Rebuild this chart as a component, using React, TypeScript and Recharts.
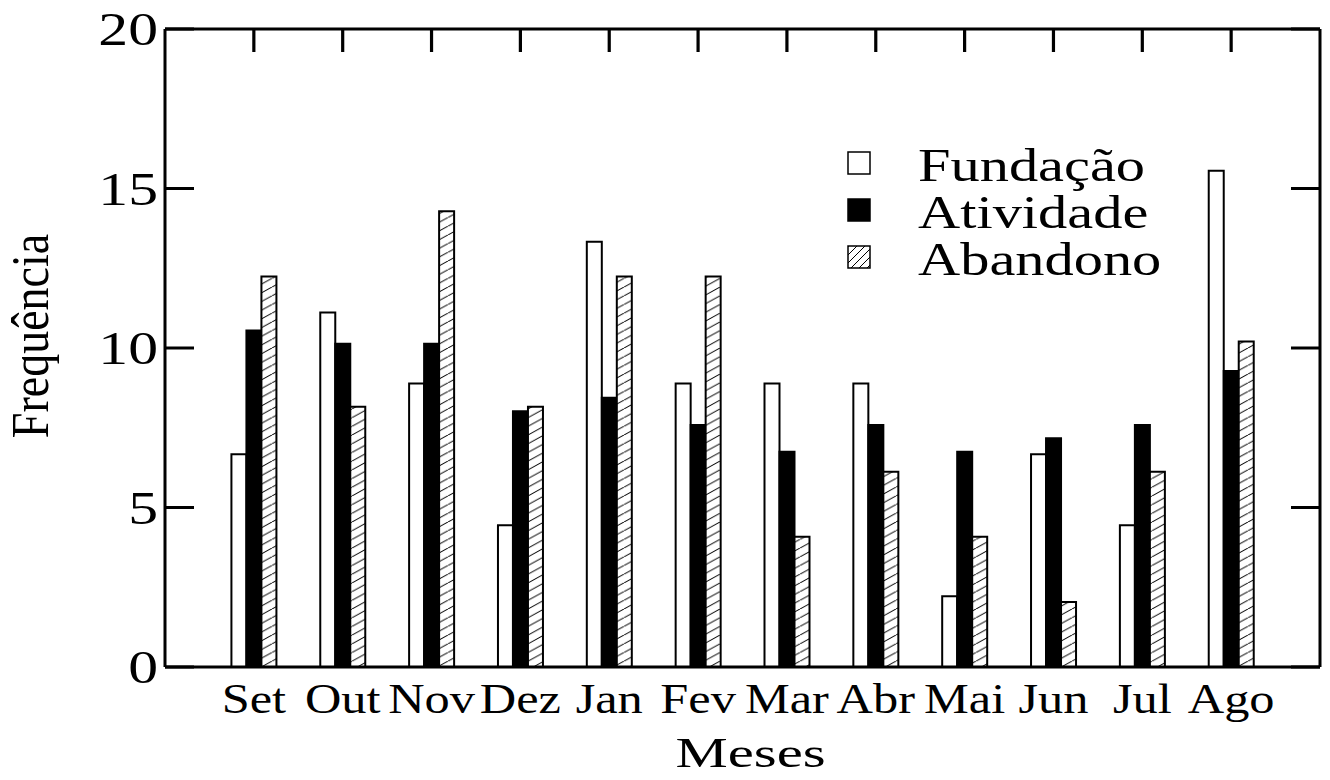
import React from 'react';
import { BarChart, Bar, XAxis, YAxis, Legend, Label } from 'recharts';

const monthLabels = ['Set', 'Out', 'Nov', 'Dez', 'Jan', 'Fev', 'Mar', 'Abr', 'Mai', 'Jun', 'Jul', 'Ago'];
const monthIndex = [1, 2, 3, 4, 5, 6, 7, 8, 9, 10, 11, 12];
const fundacao = [6.67, 11.11, 8.89, 4.44, 13.33, 8.89, 8.89, 8.89, 2.22, 6.67, 4.44, 15.56];
const atividade = [10.55, 10.13, 10.13, 8.02, 8.44, 7.59, 6.75, 7.59, 6.75, 7.17, 7.59, 9.28];
const abandono = [12.24, 8.16, 14.29, 8.16, 12.24, 12.24, 4.08, 6.12, 4.08, 2.04, 6.12, 10.2];
const yTicks = [0, 5, 10, 15, 20];
const seriesNames = ['Fundação', 'Atividade', 'Abandono'];

const data = monthIndex.map((m, i) => ({
  m,
  fundacao: fundacao[i],
  atividade: atividade[i],
  abandono: abandono[i],
}));

const FONT = '"Liberation Serif", "Times New Roman", serif';
const CHART_W = 1330;
const CHART_H = 780;
const MARGIN = { top: 28, right: 9, left: 105, bottom: 63 };
const LEFT_AXIS_W = 60;
const RIGHT_AXIS_W = 1;
const PLOT_W = CHART_W - MARGIN.left - MARGIN.right - LEFT_AXIS_W - RIGHT_AXIS_W;

const XTick = (props: any) => {
  const { x, y, payload } = props;
  const label = monthLabels[monthIndex.indexOf(payload.value)];
  return (
    <g transform={`translate(${x},${y + 46}) scale(1.2,1)`}>
      <text x={0} y={0} textAnchor="middle" fontFamily={FONT} fontSize={42} fill="#000">
        {label}
      </text>
    </g>
  );
};

const YTickLeft = (props: any) => {
  const { x, y, payload } = props;
  return (
    <g>
      <line x1={x} y1={y} x2={x + 29} y2={y} stroke="#000" strokeWidth={3} />
      <line x1={x + PLOT_W} y1={y} x2={x + PLOT_W - 29} y2={y} stroke="#000" strokeWidth={3} />
      <g transform={`translate(${x - 7},${y + 16}) scale(1.27,1)`}>
        <text x={0} y={0} textAnchor="end" fontFamily={FONT} fontSize={47} fill="#000">
          {payload.value}
        </text>
      </g>
    </g>
  );
};

const XTickTop = (props: any) => {
  const { x, y } = props;
  return <line x1={x} y1={y} x2={x} y2={y + 23} stroke="#000" strokeWidth={3.2} />;
};

const MesesLabel = (props: any) => {
  const vb = props.viewBox || {};
  const cx = vb.x + vb.width / 2;
  return (
    <g transform={`translate(${cx + 8},${vb.y + 100}) scale(1.4,1)`}>
      <text x={0} y={0} textAnchor="middle" fontFamily={FONT} fontSize={42} fill="#000">
        Meses
      </text>
    </g>
  );
};

const FreqLabel = (props: any) => {
  const vb = props.viewBox || {};
  const cy = vb.y + vb.height / 2 - 12;
  return (
    <g transform={`translate(${vb.x - 57},${cy}) scale(1.15,1) rotate(-90)`}>
      <text x={0} y={0} textAnchor="middle" fontFamily={FONT} fontSize={46} fill="#000">
        Frequência
      </text>
    </g>
  );
};

const fills = ['#fff', '#000', 'url(#hatchLegend)'];

const LegendContent = () => (
  <svg width={380} height={160} style={{ display: 'block' }}>
    <defs>
      <pattern id="hatchLegend" patternUnits="userSpaceOnUse" width="8" height="8">
        <rect width="8" height="8" fill="#fff" />
        <path d="M0,8 L8,0 M-2,2 L2,-2 M6,10 L10,6" stroke="#000" strokeWidth="1" />
      </pattern>
    </defs>
    {seriesNames.map((name, i) => (
      <g key={name}>
        <rect x={13} y={12 + i * 47} width={22} height={22} fill={fills[i]} stroke="#000" strokeWidth={1.5} />
        <g transform={`translate(83,${41 + i * 47}) scale(1.27,1)`}>
          <text x={0} y={0} fontFamily={FONT} fontSize={46} fill="#000">
            {name}
          </text>
        </g>
      </g>
    ))}
  </svg>
);

export default function App() {
  return (
    <div style={{ position: 'absolute', left: 0, top: 0, width: CHART_W, height: CHART_H, background: '#fff' }}>
      <BarChart
        width={CHART_W}
        height={CHART_H}
        data={data}
        margin={MARGIN}
        barGap={0}
        barCategoryGap={0}
      >
        <defs>
          <pattern id="hatch" patternUnits="userSpaceOnUse" width="16" height="8.7">
            <rect width="16" height="8.7" fill="#fff" />
            <path d="M0,8.7 L16,0 M-16,8.7 L0,0 M16,8.7 L32,0" stroke="#000" strokeWidth="1" />
          </pattern>
        </defs>
        <XAxis
          xAxisId="main"
          dataKey="m"
          type="number"
          domain={[0, 13]}
          ticks={monthIndex}
          allowDataOverflow
          height={50}
          tickLine={false}
          tickSize={0}
          tickMargin={0}
          tick={<XTick />}
          axisLine={{ stroke: '#000', strokeWidth: 3 }}
          interval={0}
        >
          <Label content={<MesesLabel />} />
        </XAxis>
        <XAxis
          xAxisId="top"
          orientation="top"
          dataKey="m"
          type="number"
          domain={[0, 13]}
          ticks={monthIndex}
          height={1}
          tickLine={false}
          tickSize={0}
          tickMargin={0}
          tick={<XTickTop />}
          axisLine={{ stroke: '#000', strokeWidth: 3 }}
          interval={0}
        />
        <YAxis
          yAxisId="left"
          domain={[0, 20]}
          ticks={yTicks}
          width={LEFT_AXIS_W}
          tickLine={false}
          tickSize={0}
          tickMargin={0}
          tick={<YTickLeft />}
          axisLine={{ stroke: '#000', strokeWidth: 3 }}
          interval={0}
        >
          <Label content={<FreqLabel />} />
        </YAxis>
        <YAxis
          yAxisId="right"
          orientation="right"
          domain={[0, 20]}
          ticks={yTicks}
          width={RIGHT_AXIS_W}
          tickLine={false}
          tick={false}
          axisLine={{ stroke: '#000', strokeWidth: 3 }}
        />
        <Legend
          layout="horizontal"
          verticalAlign="middle"
          align="center"
          content={<LegendContent />}
          wrapperStyle={{ position: 'absolute', left: 835, top: 140, width: 380, height: 160 }}
        />
        <Bar xAxisId="main" yAxisId="left" dataKey="fundacao" name="Fundação" barSize={15} fill="#fff" stroke="#000" strokeWidth={2} isAnimationActive={false} />
        <Bar xAxisId="main" yAxisId="left" dataKey="atividade" name="Atividade" barSize={15} fill="#000" stroke="#000" strokeWidth={2} isAnimationActive={false} />
        <Bar xAxisId="main" yAxisId="left" dataKey="abandono" name="Abandono" barSize={15} fill="url(#hatch)" stroke="#000" strokeWidth={2} isAnimationActive={false} />
      </BarChart>
    </div>
  );
}
